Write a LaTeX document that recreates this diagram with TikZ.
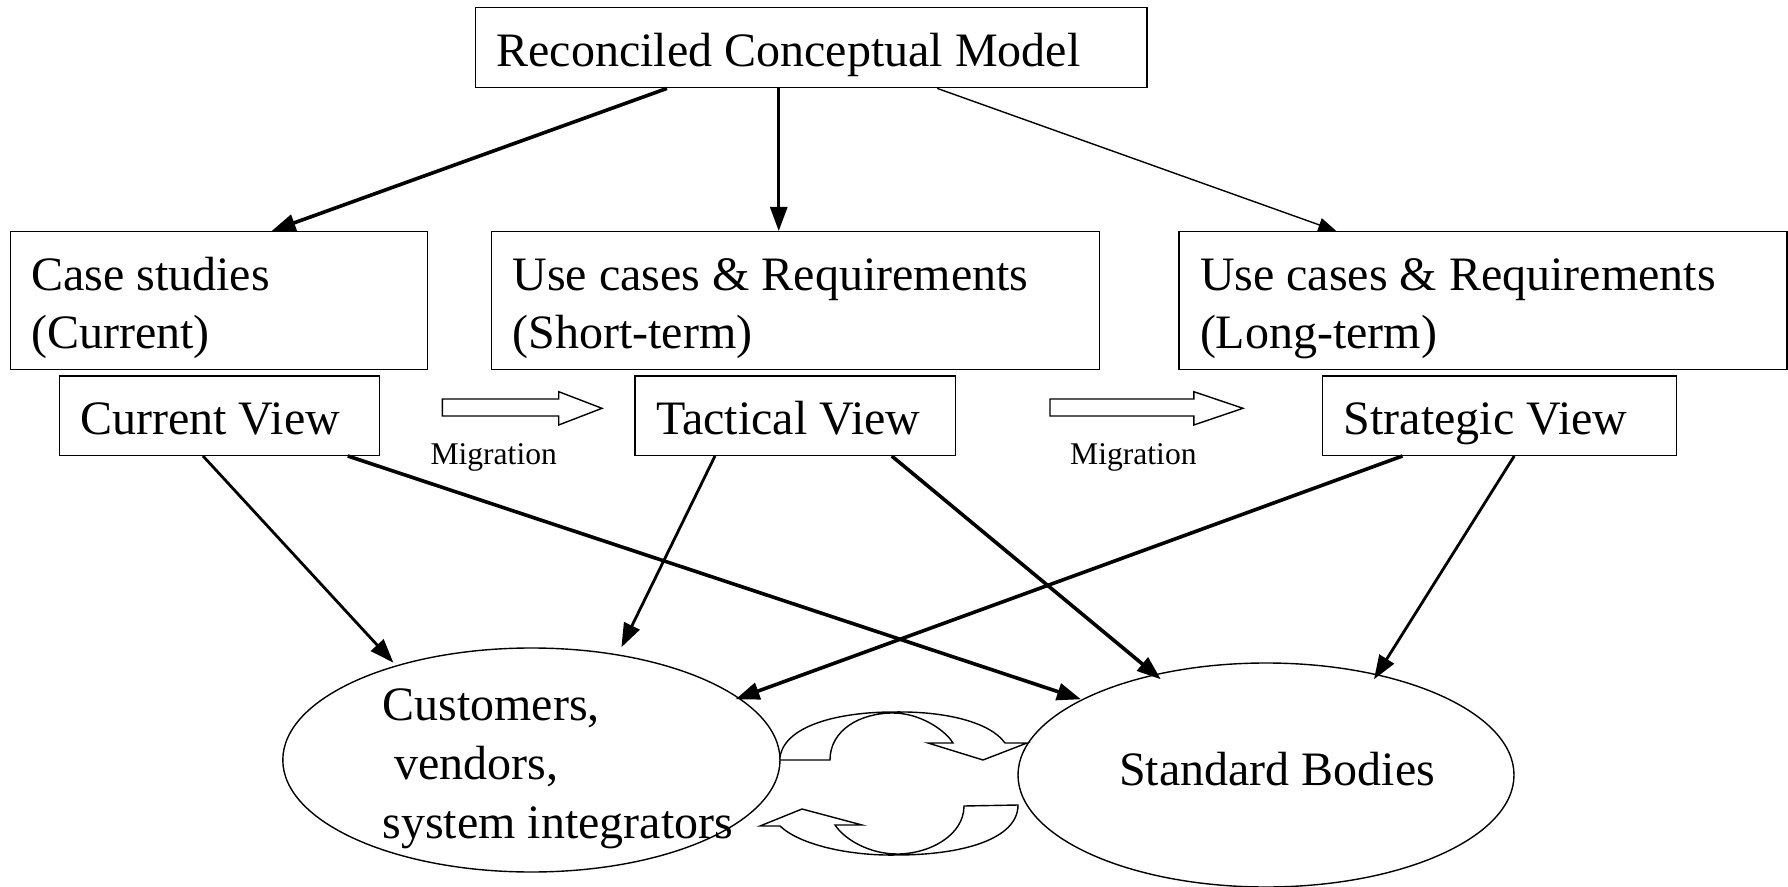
\documentclass[tikz,border=0pt]{standalone}
\usepackage{fontspec}
\setmainfont{Liberation Serif}
\usetikzlibrary{arrows.meta,calc,shapes.geometric}
\begin{document}
\begin{tikzpicture}[x=0.5pt,y=-0.5pt,
  box/.style={draw, line width=0.7pt, inner xsep=10.5pt, inner ysep=0pt, align=flush left, font=\fontsize{24}{29.1}\selectfont},
  onebox/.style={box, execute at begin node={\spaceskip=6pt\relax\rule[-6pt]{0pt}{#1}}},
  twobox/.style={box, execute at begin node={\spaceskip=6pt\relax\rule{0pt}{24.4pt}}},
  ell/.style={draw, ellipse, line width=0.7pt, inner sep=0pt},
  lbl/.style={inner sep=0pt, align=left, font=\fontsize{24}{29.5}\selectfont},
  miglbl/.style={inner sep=0pt, font=\fontsize{15.8}{18}\selectfont},
  arrthick/.style={line width=1.8pt, -{Triangle[length=12pt,width=8.5pt]}},
  arrmid/.style={line width=1.4pt, -{Triangle[length=12pt,width=8.5pt]}},
  arrthin/.style={line width=0.7pt, -{Triangle[length=9pt,width=7pt]}},
  block/.style={draw, fill=white, line width=0.7pt, line join=miter},
]
\useasboundingbox (0,0) rectangle (1788,887);

% boxes
\node[onebox=31.2pt, minimum width=335.75pt, text width=314.75pt, minimum height=40.2pt] (top) at (811.25,47.5) {Reconciled Conceptual Model};
\node[twobox, minimum width=208.65pt, text width=187.65pt, minimum height=68.8pt] (case) at (218.95,300.5) {Case studies\\(Current)};
\node[twobox, minimum width=303.9pt, text width=282.9pt, minimum height=68.8pt] (short) at (795.35,300.5) {Use cases \& Requirements\\(Short-term)};
\node[twobox, minimum width=303.9pt, text width=282.9pt, minimum height=68.8pt] (long) at (1482.9,300.5) {Use cases \& Requirements\\(Long-term)};
\node[onebox=30.6pt, minimum width=160.2pt, text width=139.2pt, minimum height=39.65pt] (cv) at (219.5,415.65) {Current View};
\node[onebox=30.6pt, minimum width=160.2pt, text width=139.2pt, minimum height=39.65pt] (tv) at (795.3,415.65) {Tactical View};
\node[onebox=30.6pt, minimum width=176.75pt, text width=155.75pt, minimum height=39.65pt] (sv) at (1499.45,415.65) {Strategic View};

% ellipses
\node[ell, minimum width=248.6pt, minimum height=112pt] (cust) at (531.4,760) {};
\node[lbl, anchor=west] (custtxt) at (382,769) {Customers,\\\hspace*{6pt}vendors,\\system integrators};
\node[ell, minimum width=248pt, minimum height=112pt] (std) at (1266,775) {};
\node[lbl, anchor=west] (stdtxt) at (1118.6,768.6) {Standard Bodies};

% migration block arrows
\draw[block] (442.4,399) -- (558.7,399) -- (558.7,391.7) -- (602,408.3) -- (558.7,425) -- (558.7,416) -- (442.4,416) -- cycle;
\draw[block] (1050,399) -- (1193.8,399) -- (1193.8,391.7) -- (1243,408.3) -- (1193.8,425) -- (1193.8,416) -- (1050,416) -- cycle;
\node[miglbl] (mig1) at (493.7,457) {Migration};
\node[miglbl] (mig2) at (1133.4,457) {Migration};

% arrows from the top box
\draw[arrthick] ($(top.south)+(-144.25,0)$) -- ($(case.north)+(52.6,0)$);
\draw[arrmid] ($(top.south)+(-32.5,0)$) -- ($(short.north)+(-16.6,0)$);
\draw[arrthin] ($(top.south)+(126,0)$) -- ($(long.north)+(-146.6,0)$);

% arrows from the views
\draw[arrmid] ($(cv.south)+(-16.5,0)$) -- ($(cust.center)+(-138,-97.3)$);
\draw[arrthick] ($(cv.south)+(128.3,0)$) -- ($(std.center)+(-185,-75.7)$);
\draw[arrmid] ($(tv.south)+(-80.3,0)$) -- ($(cust.center)+(90,-112.7)$);
\draw[arrthick] ($(tv.south)+(96.4,0)$) -- ($(std.center)+(-105.2,-95.7)$);
\draw[arrthick] ($(sv.south)+(-97,0)$) -- ($(cust.center)+(204.1,-60.7)$);
\draw[arrmid] ($(sv.south)+(14.8,0)$) -- ($(std.center)+(108,-95.7)$);

% circular exchange arrows
\draw[block] (780,760) -- (830,760) .. controls (830,730) and (860,713) .. (893,713)
  .. controls (920,713) and (945,730) .. (953,743) -- (928,743) -- (983,760) -- (1027,743) -- (1005,743)
  .. controls (990,722) and (945,711) .. (893,712) .. controls (840,712) and (785,725) .. (780,757) -- cycle;
\draw[block] (1018,805) -- (964,806) .. controls (964,835) and (930,854) .. (897,854)
  .. controls (870,854) and (845,840) .. (835,825) -- (862,825) -- (802,809) -- (760,826) -- (780,826)
  .. controls (800,845) and (850,856) .. (897,855) .. controls (960,855) and (1018,840) .. (1018,805) -- cycle;
\end{tikzpicture}
\end{document}
